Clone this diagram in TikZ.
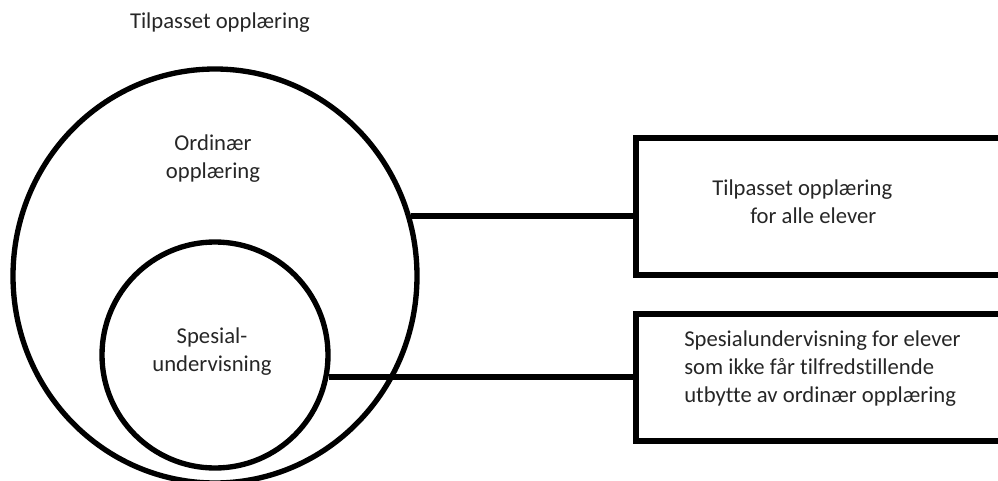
\documentclass[tikz,border=0pt]{standalone}
\usepackage{fontspec}
\setmainfont{Carlito}[Ligatures=NoCommon]
\usepackage{tikz}
\usetikzlibrary{shapes.geometric}

\tikzset{
	ring/.style={draw, line width=4pt, inner sep=0pt},
	box/.style={draw, rectangle, line width=4pt, inner sep=0pt, minimum width=280.5pt},
	label/.style={inner sep=0pt, text=black!85, font=\fontsize{17}{21}\selectfont},
	link/.style={line width=4pt}
}

\begin{document}
\begin{tikzpicture}[x=0.75pt, y=-0.75pt]
	
	\useasboundingbox (0,0) rectangle (998,481);
	\clip (0,0) rectangle (998,481);
	
	% Draw circles
	\node[ring, ellipse, minimum width=303pt, minimum height=310.5pt] (outer) at (215,276) {};
	\node[ring, circle, minimum size=169.5pt] (inner) at (215,355) {};
	
	% Draw boxes
	\node[box, minimum height=102.75pt] (boxall) at (823,206.5) {};
	\node[box, minimum height=95.25pt] (boxspes) at (823,377.5) {};
	
	% Connect circles and boxes
	\draw[link] (outer.17) -- (outer.17 -| boxall.west);
	\draw[link] (inner.-11) -- (inner.-11 -| boxspes.west);
	
	% Label circles
	\node[label] (title) at (220,23) {Tilpasset opplæring};
	\node[label, align=center] (ordinaer) at (213,159) {Ordinær\\opplæring};
	\node[label, align=center] (spesial) at (212,352) {Spesial-\\undervisning};
	
	% Label boxes
	\node[label, anchor=west, align=left] (textall) at (712,202) {Tilpasset opplæring\\\hspace*{28.5pt}for alle elever};
	\node[label, anchor=west, align=left] (textspes) at (684,369) {Spesialundervisning for elever\\som ikke får tilfredstillende\\utbytte av ordinær opplæring};
	
\end{tikzpicture}
\end{document}
